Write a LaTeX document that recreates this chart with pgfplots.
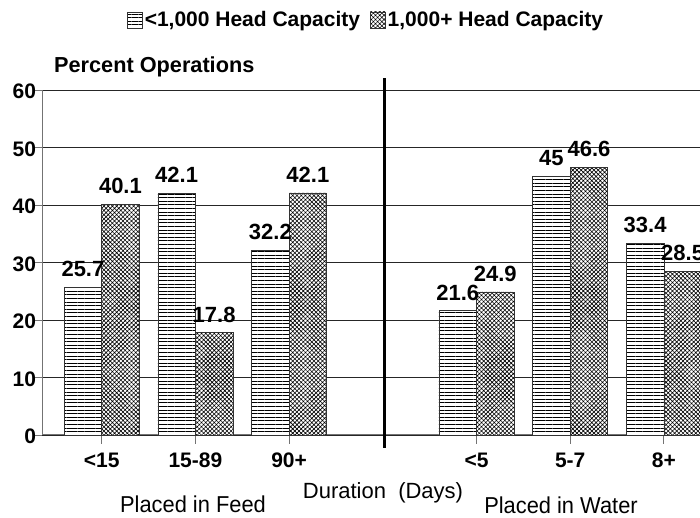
\documentclass[border=0pt]{standalone}
\usepackage{pgfplots}
\pgfplotsset{compat=1.18}
\usepackage{fontspec}
\setmainfont{Liberation Sans}
\usetikzlibrary{patterns.meta}
\begin{document}
\begin{tikzpicture}[x=1pt,y=1pt]
\path[use as bounding box] (0,0) rectangle (700,518);
\clip (0,0) rectangle (700,518);
\begin{axis}[
  at={(42pt,83pt)}, anchor=south west,
  scale only axis, width=678.1pt, height=345pt,
  xmin=-0.637, xmax=6.6, ymin=0, ymax=60,
  ybar=0pt, bar width=37.5pt,
  ytick={0,10,...,60},
  xtick={0,1,2,4,5,6},
  xticklabels={{<15},{15-89},{90+},{<5},{5-7},{8+}},
  /pgf/number format/assume math mode=true,
  axis lines=left,
  axis line style={-, draw=black!55, line width=1pt},
  tick align=outside,
  major tick length=9pt,
  tick style={draw=black!55, line width=0.8pt},
  ymajorgrids,
  major grid style={draw=black!85, line width=0.8pt},
  ticklabel style={font=\bfseries\fontsize{21}{21}\selectfont},
  xticklabel style={anchor=base, yshift=-24pt},
  yticklabel style={xshift=6.5pt, yshift=-1.5pt},
  nodes near coords,
  every node near coord/.append style={font=\bfseries\fontsize{22}{22}\selectfont, inner sep=0pt, anchor=south, yshift=10pt},
  legend columns=2,
  legend style={draw=none, at={(0.478,1.203)}, anchor=center, font=\bfseries\fontsize{21}{21}\selectfont,
    inner sep=0pt, nodes={inner sep=2pt},
    /tikz/every even column/.append style={column sep=8pt}},
  legend image code/.code={\draw[#1] (0pt,-8pt) rectangle (15pt,8pt);},
  clip=false,
]
\addplot[draw=black!80, line width=0.6pt, preaction={fill=white}, pattern={Lines[angle=0, distance=3.6pt, line width=0.6pt]}]
  coordinates {(0,25.7) (1,42.1) (2,32.2) (4,21.6) (5,45) (6,33.4)};
\addlegendentry{<1,000 Head Capacity}
\addplot[draw=black!80, line width=0.6pt, preaction={fill=white}, pattern={Hatch[angle=45, distance=3pt, line width=0.6pt]}]
  coordinates {(0,40.1) (1,17.8) (2,42.1) (4,24.9) (5,46.6) (6,28.5)};
\addlegendentry{1,000+  Head Capacity}
\end{axis}
\draw[line width=3pt] (384,70) -- (384,440);
\node[anchor=base west, font=\bfseries\fontsize{21.7}{21.7}\selectfont, inner sep=0pt] at (54,445.3) {Percent Operations};
\node[font=\fontsize{22}{22}\selectfont, inner sep=0pt] at (383,25) {Duration\ \ (Days)};
\node[font=\fontsize{23}{23}\selectfont, inner sep=0pt] at (193,14) {\scalebox{0.95}[1]{Placed in Feed}};
\node[font=\fontsize{23}{23}\selectfont, inner sep=0pt] at (561,13) {\scalebox{0.95}[1]{Placed in Water}};
\end{tikzpicture}
\end{document}
